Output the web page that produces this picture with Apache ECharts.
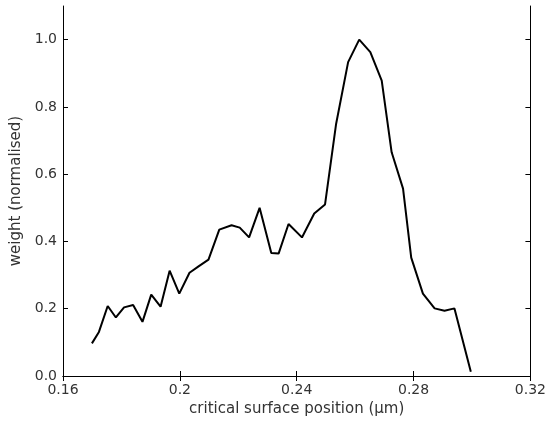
<!DOCTYPE html>
<html>
<head>
<meta charset="utf-8">
<script src="https://cdn.jsdelivr.net/npm/echarts@6/dist/echarts.min.js"></script>
<style>
  html, body { margin: 0; padding: 0; background: #fff; }
  #chart { width: 549px; height: 426px; }
</style>
</head>
<body>
<div id="chart"></div>
<script>
// Critical surface position (µm)
var positions = [
  0.1699, 0.1723, 0.1753, 0.1781, 0.1809, 0.1840, 0.1872, 0.1902, 0.1934, 0.1965,
  0.1998, 0.2033, 0.2064, 0.2098, 0.2135, 0.2177, 0.2205, 0.2237, 0.2273, 0.2313,
  0.2338, 0.2372, 0.2418, 0.2460, 0.2497, 0.2535, 0.2576, 0.2614, 0.2652, 0.2691,
  0.2725, 0.2764, 0.2792, 0.2832, 0.2872, 0.2906, 0.2940, 0.2996
];
// Normalised weight at each position
var weights = [
  0.097, 0.131, 0.208, 0.174, 0.204, 0.211, 0.161, 0.242, 0.206, 0.313,
  0.245, 0.307, 0.326, 0.346, 0.435, 0.448, 0.441, 0.412, 0.500, 0.366,
  0.364, 0.452, 0.412, 0.483, 0.510, 0.750, 0.933, 1.000, 0.963, 0.878,
  0.665, 0.557, 0.352, 0.245, 0.201, 0.194, 0.201, 0.013
];
var xTicks = [0.16, 0.2, 0.24, 0.28, 0.32];
var xTickText = ['0.16', '0.2', '0.24', '0.28', '0.32'];
var yTicks = [0, 0.2, 0.4, 0.6, 0.8, 1.0];
var yTickText = ['0.0', '0.2', '0.4', '0.6', '0.8', '1.0'];

var points = positions.map(function (p, i) { return [p, weights[i]]; });

function labelFor(values, texts) {
  return function (v) {
    for (var i = 0; i < values.length; i++) {
      if (Math.abs(values[i] - v) < 1e-9) return texts[i];
    }
    return '';
  };
}

var font = 'DejaVu Sans, Verdana, sans-serif';
var textColor = '#333';
var axisLine = { show: true, lineStyle: { color: '#000', width: 1 } };

var chart = echarts.init(document.getElementById('chart'), null, { renderer: 'canvas' });
chart.setOption({
  animation: false,
  backgroundColor: '#fff',
  grid: { left: 63, top: 6, right: 17, bottom: 50, containLabel: false },
  xAxis: [{
    type: 'value', min: 0.16, max: 0.32, interval: 0.04,
    name: 'critical surface position (\u00b5m)', nameLocation: 'middle', nameGap: 26,
    nameTextStyle: { color: textColor, fontFamily: font, fontSize: 15 },
    axisLine: axisLine,
    axisTick: { show: true, inside: true, length: 5, lineStyle: { color: '#000' }, customValues: xTicks },
    axisLabel: { color: textColor, fontFamily: font, fontSize: 14, margin: 7, customValues: xTicks, formatter: labelFor(xTicks, xTickText) },
    splitLine: { show: false }
  }, {
    type: 'value', position: 'top', min: 0.16, max: 0.32, interval: 0.04,
    axisLine: axisLine,
    axisTick: { show: true, inside: true, length: 5, lineStyle: { color: '#000' }, customValues: xTicks },
    axisLabel: { show: false },
    splitLine: { show: false }
  }],
  yAxis: [{
    type: 'value', min: 0, max: 1.1, interval: 0.2,
    name: 'weight (normalised)', nameLocation: 'middle', nameGap: 36,
    nameTextStyle: { color: textColor, fontFamily: font, fontSize: 15 },
    axisLine: axisLine,
    axisTick: { show: true, inside: true, length: 5, lineStyle: { color: '#000' }, customValues: yTicks },
    axisLabel: { color: textColor, fontFamily: font, fontSize: 14, margin: 6, customValues: yTicks, formatter: labelFor(yTicks, yTickText) },
    splitLine: { show: false }
  }, {
    type: 'value', position: 'right', min: 0, max: 1.1, interval: 0.2,
    axisLine: axisLine,
    axisTick: { show: true, inside: true, length: 5, lineStyle: { color: '#000' }, customValues: yTicks },
    axisLabel: { show: false },
    splitLine: { show: false }
  }],
  series: [{
    type: 'line',
    data: points,
    showSymbol: false,
    lineStyle: { color: '#000', width: 2 },
    silent: true
  }]
});
</script>
</body>
</html>
